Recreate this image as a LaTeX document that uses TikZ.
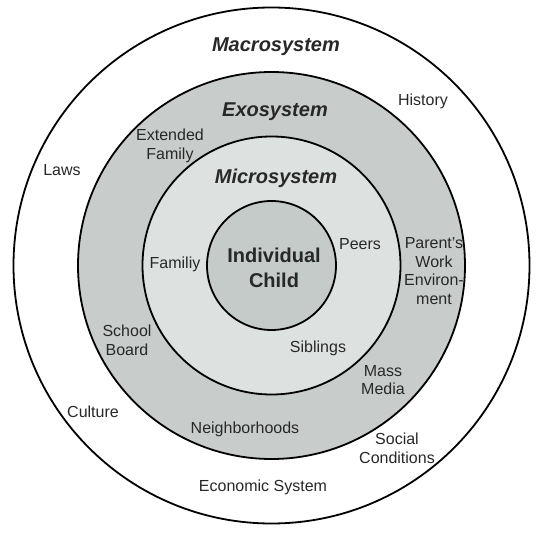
\documentclass[tikz,border=0pt]{standalone}
\usepackage{fontspec}
\setmainfont{Liberation Sans}
\usepackage{tikz}
\usetikzlibrary{positioning}

\definecolor{exofill}{RGB}{200,205,203}
\definecolor{microfill}{RGB}{221,225,224}
\definecolor{childfill}{RGB}{197,203,201}
\definecolor{inkgray}{RGB}{40,40,40}

\begin{document}
\begin{tikzpicture}
                    [x=1pt, y=-1pt,
                    ring/.style={circle,
                        inner sep=0pt,
                        draw=black, line width=1.8pt},
                    sys/.style={font=\fontsize{20}{24}\selectfont\bfseries\itshape,
                        text=inkgray, inner sep=0pt},
                    item/.style={font=\fontsize{16}{18.8}\selectfont,
                        align=center, text=inkgray, inner sep=0pt}]

                    \useasboundingbox (0,0) rectangle (542,540);
                    \coordinate (c) at (271.5,265.5);

                    % the four systems
                    \node[ring, fill=white, minimum size=516pt]
                        (macro) at (c) {};
                    \node[ring, fill=exofill, minimum size=387pt]
                        (exo) at (c) {};
                    \node[ring, fill=microfill, minimum size=258pt]
                        (micro) at (c) {};
                    \node[ring, fill=childfill, minimum size=129pt]
                        (child) at (c) {};

                    % titles
                    \node[sys] (macrot) at (276,47) {Macrosystem};
                    \node[sys] (exot) at (275,112) {Exosystem};
                    \node[sys] (microt) at (276,178) {Microsystem};
                    \node[font=\fontsize{20}{25}\selectfont\bfseries,
                        align=center, text=inkgray, inner sep=0pt]
                        (childt) at (274,268) {Individual\\Child};

                    % macrosystem
                    \node[item] (history) at (423,101) {History};
                    \node[item] (laws) at (62,170) {Laws};
                    \node[item] (culture) at (93,412) {Culture};
                    \node[item] (social) at (397,448) {Social\\Conditions};
                    \node[item] (economy) at (263,487) {Economic System};

                    % exosystem
                    \node[item] (extfam) at (170,146) {Extended\\Family};
                    \node[item] (work) at (434,271) {Parent's\\Work\\Environ-\\ment};
                    \node[item] (board) at (127,340) {School\\Board};
                    \node[item] (media) at (383,380) {Mass\\Media};
                    \node[item] (hoods) at (245,429) {Neighborhoods};

                    % microsystem
                    \node[item] (family) at (175,264) {Familiy};
                    \node[item] (peers) at (360,244) {Peers};
                    \node[item] (siblings) at (318,348) {Siblings};
                \end{tikzpicture}
\end{document}
